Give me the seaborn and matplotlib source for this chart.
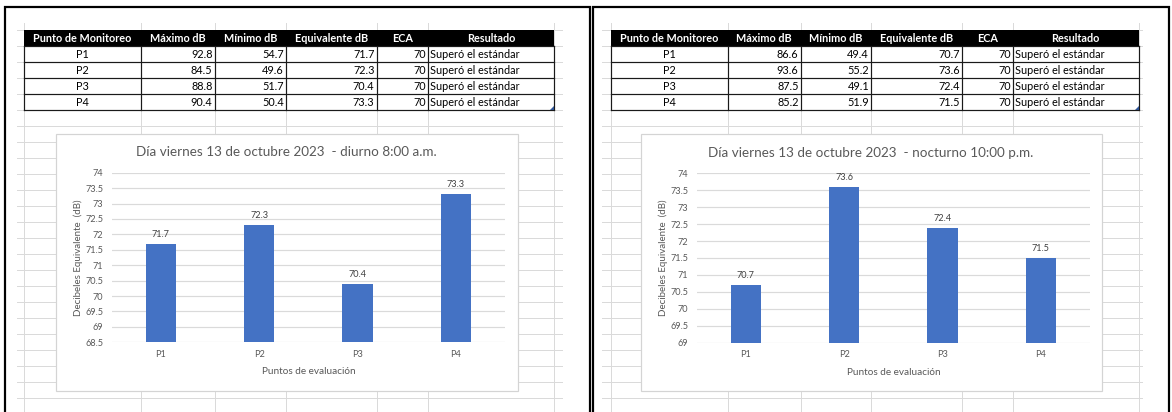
import matplotlib
matplotlib.use("Agg")
import matplotlib.pyplot as plt
from matplotlib.patches import Rectangle, Polygon
import pandas as pd
import seaborn as sns

# ---- data -----------------------------------------------------------------
puntos = ["P1", "P2", "P3", "P4"]
encabezados = ["Punto de Monitoreo", "Máximo dB", "Mínimo dB",
               "Equivalente dB", "ECA", "Resultado"]

diurno_max = [92.8, 84.5, 88.8, 90.4]
diurno_min = [54.7, 49.6, 51.7, 50.4]
diurno_eq = [71.7, 72.3, 70.4, 73.3]

nocturno_max = [86.6, 93.6, 87.5, 85.2]
nocturno_min = [49.4, 55.2, 49.1, 51.9]
nocturno_eq = [70.7, 73.6, 72.4, 71.5]

eca = [70, 70, 70, 70]
resultado = ["Superó el estándar"] * 4

titulo_diurno = "Día viernes 13 de octubre 2023  - diurno 8:00 a.m."
titulo_nocturno = "Día viernes 13 de octubre 2023  - nocturno 10:00 p.m."
ticks_diurno = [68.5, 69, 69.5, 70, 70.5, 71, 71.5, 72, 72.5, 73, 73.5, 74]
ticks_nocturno = [69, 69.5, 70, 70.5, 71, 71.5, 72, 72.5, 73, 73.5, 74]
etiqueta_x = "Puntos de evaluación"
etiqueta_y = "Decibeles Equivalente  (dB)"

# ---- style ----------------------------------------------------------------
plt.rcParams["font.family"] = ["Lato", "DejaVu Sans"]
AZUL = "#4472C4"
GRIS_TXT = "#595959"
GRIS_REJ = "#dadada"
W, H = 1172, 412


def lw(px):
    return px * 72 / 100


fig = plt.figure(figsize=(W / 100, H / 100), dpi=100)
fig.patch.set_facecolor("white")
bg = fig.add_axes([0, 0, 1, 1])
bg.set_xlim(0, W)
bg.set_ylim(H, 0)
bg.axis("off")

paneles = [
    dict(cols=[24, 141, 214.5, 286, 376.5, 428, 554], grid=(17, 562),
         caja=(55.5, 133.5, 518, 391), plot=(111.7, 172.7, 505, 342.3),
         borde=(5, 589.5), maximo=diurno_max, minimo=diurno_min,
         equiv=diurno_eq, titulo=titulo_diurno, ticks=ticks_diurno),
    dict(cols=[611, 728, 800.5, 871, 962, 1013, 1138.5], grid=(602, 1142),
         caja=(640.5, 134, 1101.5, 391.5), plot=(696.7, 173.3, 1090, 342.7),
         borde=(592.5, 1169), maximo=nocturno_max, minimo=nocturno_min,
         equiv=nocturno_eq, titulo=titulo_nocturno, ticks=ticks_nocturno),
]

Y0, HEAD_H, ROW_H = 29.5, 16.5, 16

for p in paneles:
    cols = p["cols"]
    # worksheet cell grid
    y = Y0
    while y < H:
        bg.plot(p["grid"], [y, y], color=GRIS_REJ, lw=lw(1), zorder=1)
        y += ROW_H
    for c in cols:
        bg.plot([c, c], [23, H], color=GRIS_REJ, lw=lw(1), zorder=1)

    # table header
    bg.add_patch(Rectangle((cols[0], Y0), cols[-1] - cols[0], HEAD_H,
                           facecolor="black", edgecolor="none", zorder=3))
    for j, h in enumerate(encabezados):
        bg.text((cols[j] + cols[j + 1]) / 2, Y0 + HEAD_H / 2 + 0.5, h,
                ha="center", va="center", color="white", fontsize=7.8,
                fontweight="bold", zorder=4)

    # table body
    top = Y0 + HEAD_H
    bot = top + ROW_H * len(puntos)
    bg.add_patch(Rectangle((cols[0], top), cols[-1] - cols[0], bot - top,
                           facecolor="white", edgecolor="none", zorder=2))
    for i in range(len(puntos) + 1):
        yy = top + i * ROW_H
        bg.plot([cols[0], cols[-1]], [yy, yy], color="#1a1a1a",
                lw=lw(1.2), zorder=3)
    for c in cols:
        bg.plot([c, c], [top, bot], color="#1a1a1a", lw=lw(1.2), zorder=3)
    for i, pt in enumerate(puntos):
        yc = top + i * ROW_H + ROW_H / 2 + 0.5
        kw = dict(va="center", color="black", fontsize=7.8, zorder=4)
        bg.text((cols[0] + cols[1]) / 2, yc, pt, ha="center", **kw)
        bg.text(cols[2] - 2, yc, f"{p['maximo'][i]:.1f}", ha="right", **kw)
        bg.text(cols[3] - 2, yc, f"{p['minimo'][i]:.1f}", ha="right", **kw)
        bg.text(cols[4] - 2, yc, f"{p['equiv'][i]:.1f}", ha="right", **kw)
        bg.text(cols[5] - 2, yc, f"{eca[i]}", ha="right", **kw)
        bg.text(cols[5] + 2, yc, resultado[i], ha="left", **kw)
    # table resize handle
    bg.add_patch(Polygon([(cols[-1] - 4, bot), (cols[-1], bot),
                          (cols[-1], bot - 4)], closed=True,
                         facecolor="#2f5597", edgecolor="none", zorder=5))

    # chart area
    x0, y0, x1, y1 = p["caja"]
    bg.add_patch(Rectangle((x0, y0), x1 - x0, y1 - y0, facecolor="white",
                           edgecolor="#d4d4d4", lw=lw(1.2), zorder=6))
    bg.text((x0 + x1) / 2, y0 + 19, p["titulo"], ha="center", va="center",
            color=GRIS_TXT, fontsize=9.7, zorder=7)

    # sheet border
    bx0, bx1 = p["borde"]
    bg.plot([bx0, bx0, bx1, bx1], [H + 2, 7, 7, H + 2], color="black",
            lw=lw(2.2), zorder=8, solid_joinstyle="miter")

    # bar chart
    px0, py0, px1, py1 = p["plot"]
    ax = fig.add_axes([px0 / W, 1 - py1 / H, (px1 - px0) / W, (py1 - py0) / H])
    df = pd.DataFrame({"Punto": puntos, "Equivalente": p["equiv"]})
    sns.barplot(data=df, x="Punto", y="Equivalente", color=AZUL,
                saturation=1, width=0.31, ax=ax, zorder=3)
    ax.set_xlim(-0.5, len(puntos) - 0.5)
    ax.set_ylim(p["ticks"][0], p["ticks"][-1])
    ax.set_yticks(p["ticks"])
    ax.set_yticklabels([f"{t:g}" for t in p["ticks"]])
    ax.patch.set_alpha(0)
    for s in ax.spines.values():
        s.set_visible(False)
    ax.grid(axis="y", color=GRIS_REJ, lw=lw(1.2), zorder=0)
    ax.set_axisbelow(True)
    ax.tick_params(axis="both", length=0, colors=GRIS_TXT, labelsize=6.6)
    ax.tick_params(axis="x", pad=5.5)
    ax.tick_params(axis="y", pad=6)
    ax.bar_label(ax.containers[0], labels=[f"{v:.1f}" for v in p["equiv"]],
                 padding=3.5, fontsize=6.6, color="#404040")
    ax.set_xlabel(etiqueta_x, fontsize=7.2, color=GRIS_TXT, va="center")
    ax.set_ylabel(etiqueta_y, fontsize=7.0, color=GRIS_TXT, va="center")
    ax.xaxis.set_label_coords(0.5, -0.173)
    ax.yaxis.set_label_coords(-0.085, 0.5)

fig.savefig("out.png", dpi=100, facecolor="white")
